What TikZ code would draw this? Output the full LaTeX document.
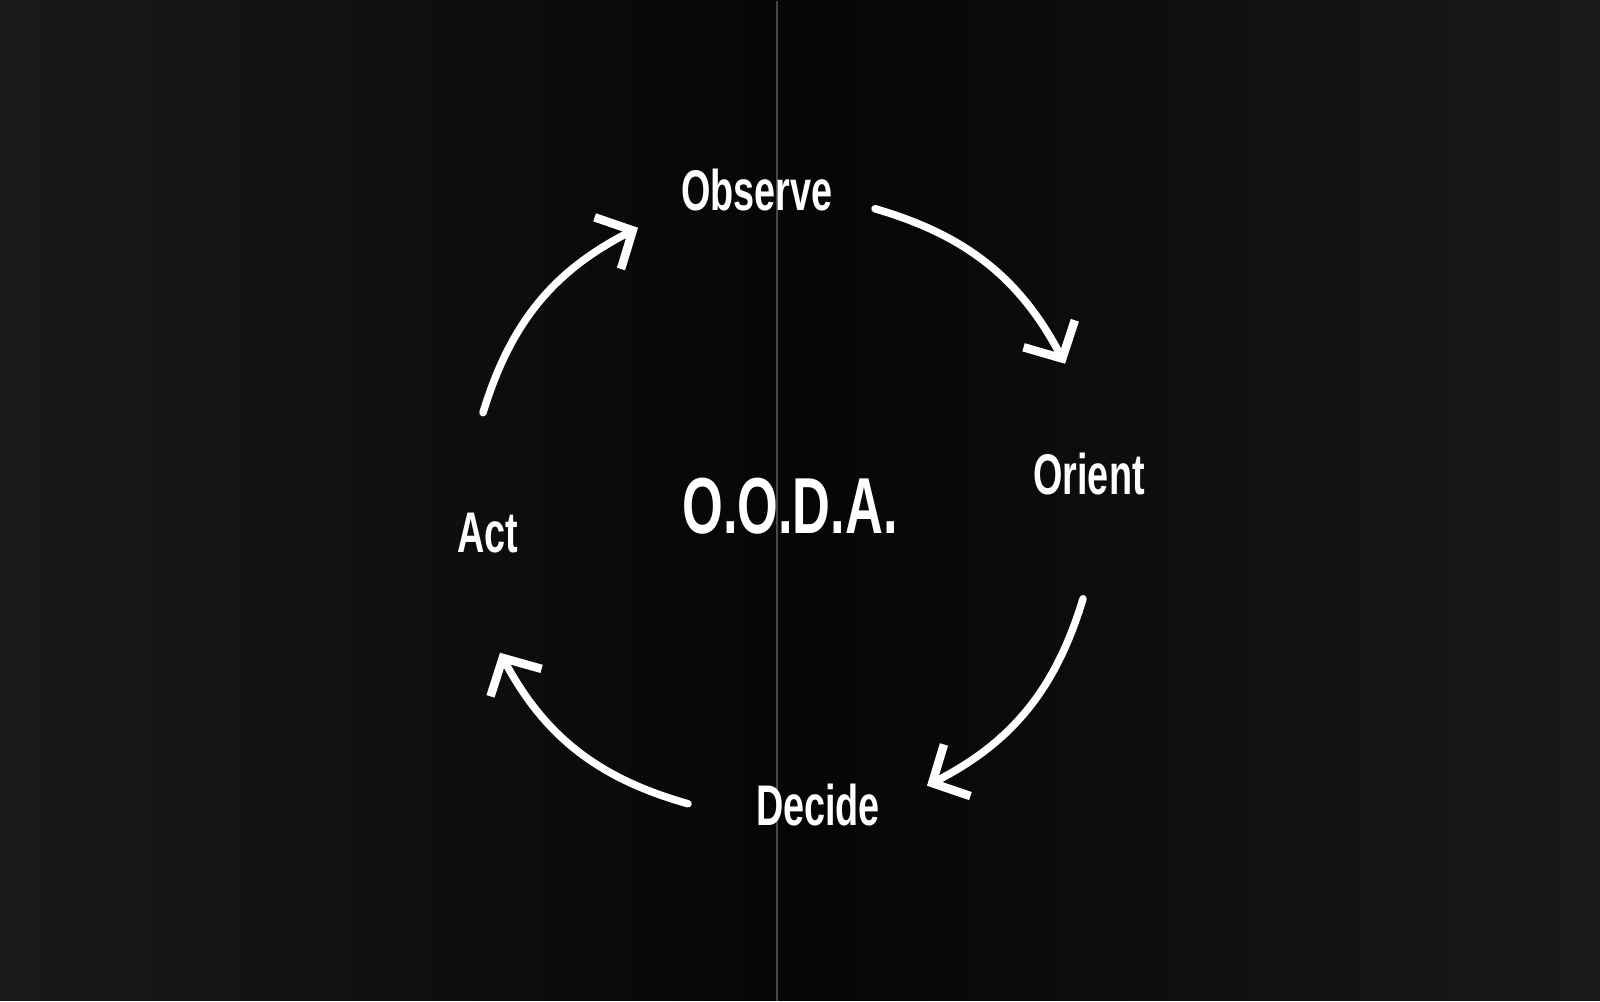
\documentclass[tikz,border=0pt]{standalone}
\usepackage{fontspec}
\setsansfont{Liberation Sans}[FakeStretch=0.66]
\usetikzlibrary{arrows.meta}

\begin{document}
\begin{tikzpicture}[thick,
  loop arrow/.style={-{Straight Barb[length=2.8mm,width=5.8mm,line width=0.85mm]},line width=0.75mm,line cap=round,white},
  stage node/.style={anchor=base,text=white,inner sep=0pt,font=\sffamily\bfseries\fontsize{16.3pt}{18pt}\selectfont},
  title node/.style={stage node,font=\sffamily\bfseries\fontsize{22.6pt}{26pt}\selectfont}]

  % background
  \fill[left color=black!90,right color=black!90,middle color=black!98] (0,0) rectangle (16,10);
  \draw[black!72,line width=0.15mm] (7.77,0) -- (7.77,10);
  \useasboundingbox (0,0) rectangle (16,10);

  \node[stage node] (obs) at (7.57,7.90) {Observe};
  \node[stage node] (ori) at (10.89,5.06) {Orient};
  \node[stage node] (dec) at (8.18,1.75) {Decide};
  \node[stage node] (act) at (4.88,4.48) {Act};
  \node[title node] (ooda) at (7.90,4.67) {O.O.D.A.};

  % ends of the loop arrows
  \coordinate (obs out) at (8.75,7.92);
  \coordinate (ori in) at (10.65,6.37);
  \coordinate (ori out) at (10.83,4.02);
  \coordinate (dec in) at (9.27,2.15);
  \coordinate (dec out) at (6.88,1.97);
  \coordinate (act in) at (5.00,3.48);
  \coordinate (act out) at (4.83,5.88);
  \coordinate (obs in) at (6.38,7.73);

  \path[loop arrow]
    (obs out) edge[bend left=23] (ori in)
    (ori out) edge[bend left=23] (dec in)
    (dec out) edge[bend left=23] (act in)
    (act out) edge[bend left=23] (obs in);
\end{tikzpicture}
\end{document}
